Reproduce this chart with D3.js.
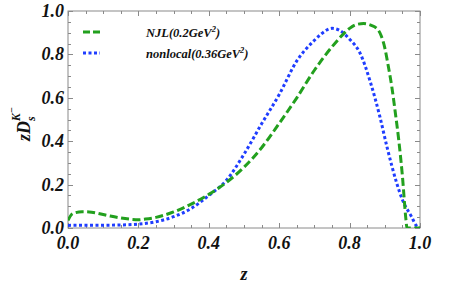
<!DOCTYPE html>
<html>
<head>
<meta charset="utf-8">
<style>
 body{ margin:0; background:#fff; }
 text{ font-family:"Liberation Serif", serif; font-weight:bold; font-style:italic; fill:#111; }
</style>
</head>
<body>
<svg width="463" height="288"></svg>
<script src="https://d3js.org/d3.v7.min.js"></script>
<script>

// NJL (0.2 GeV^2), green dashed
var njlZ = [0, 0.01, 0.02, 0.04, 0.06, 0.08, 0.1, 0.12, 0.15, 0.18, 0.2, 0.22, 0.25, 0.3, 0.35, 0.4, 0.45, 0.5, 0.55, 0.6, 0.65, 0.7, 0.75, 0.78, 0.8, 0.82, 0.84, 0.86, 0.88, 0.89, 0.9, 0.91, 0.92, 0.93, 0.94, 0.95, 0.96, 0.963, 0.98, 1.0];
var njlV = [0.035, 0.062, 0.07, 0.075, 0.074, 0.069, 0.062, 0.055, 0.046, 0.04, 0.038, 0.041, 0.049, 0.074, 0.11, 0.155, 0.21, 0.28, 0.37, 0.482, 0.6, 0.727, 0.835, 0.89, 0.92, 0.938, 0.942, 0.935, 0.915, 0.885, 0.83, 0.745, 0.65, 0.53, 0.4, 0.24, 0.04, 0, 0, 0];

// nonlocal (0.36 GeV^2), blue dotted
var nlZ = [0, 0.05, 0.1, 0.15, 0.2, 0.25, 0.3, 0.35, 0.4, 0.45, 0.5, 0.55, 0.6, 0.65, 0.7, 0.72, 0.75, 0.77, 0.8, 0.83, 0.86, 0.886, 0.906, 0.934, 0.95, 0.976, 0.99, 1.0];
var nlV = [0.012, 0.013, 0.013, 0.014, 0.018, 0.029, 0.052, 0.09, 0.15, 0.22, 0.34, 0.48, 0.615, 0.77, 0.865, 0.895, 0.92, 0.912, 0.87, 0.805, 0.667, 0.513, 0.375, 0.206, 0.13, 0.052, 0.01, 0];

var xTicks = [0, 0.2, 0.4, 0.6, 0.8, 1.0];
var yTicks = [0, 0.2, 0.4, 0.6, 0.8, 1.0];
var legendNames = ["NJL(0.2GeV", "nonlocal(0.36GeV"];

var svg = d3.select("svg");
var x = d3.scaleLinear().domain([0, 1]).range([68, 420]);
var y = d3.scaleLinear().domain([0, 1]).range([228, 11]);
var axisColor = "#8a8a8a";

// frame
svg.append("rect")
    .attr("x", x(0)).attr("y", y(1))
    .attr("width", x(1) - x(0)).attr("height", y(0) - y(1))
    .attr("fill", "none").attr("stroke", axisColor).attr("stroke-width", 1);

// ticks (inside, on all four sides)
var minor = d3.range(0, 1.0001, 0.05);
var g = svg.append("g").attr("stroke", axisColor).attr("stroke-width", 1);
minor.forEach(function(t){
    var isMajor = Math.abs(t * 5 - Math.round(t * 5)) < 1e-6;
    var len = isMajor ? 5 : 3;
    var px = Math.round(x(t)) + 0.5, py = Math.round(y(t)) + 0.5;
    g.append("line").attr("x1", px).attr("x2", px).attr("y1", y(0)).attr("y2", y(0) - len);
    g.append("line").attr("x1", px).attr("x2", px).attr("y1", y(1)).attr("y2", y(1) + len);
    g.append("line").attr("y1", py).attr("y2", py).attr("x1", x(0)).attr("x2", x(0) + len);
    g.append("line").attr("y1", py).attr("y2", py).attr("x1", x(1)).attr("x2", x(1) - len);
});

// tick labels
svg.selectAll(".xl").data(xTicks).enter().append("text")
    .attr("x", function(d){ return x(d); })
    .attr("y", 249)
    .attr("text-anchor", "middle")
    .style("font-size", "18px")
    .text(function(d){ return d.toFixed(1); });

svg.selectAll(".yl").data(yTicks).enter().append("text")
    .attr("x", 64)
    .attr("y", function(d){ return y(d) + 6; })
    .attr("text-anchor", "end")
    .style("font-size", "18px")
    .text(function(d){ return d.toFixed(1); });

// axis labels
svg.append("text").attr("x", 244).attr("y", 280)
    .attr("text-anchor", "middle").style("font-size", "18px").text("z");

var yl = svg.append("text")
    .attr("transform", "translate(30,141) rotate(-90)")
    .style("font-size", "18px");
yl.append("tspan").text("zD");
yl.append("tspan").attr("dy", 5).style("font-size", "12px").text("s");
yl.append("tspan").attr("dx", -5).attr("dy", -15).style("font-size", "12px").text("K");
yl.append("tspan").attr("dy", -5).style("font-size", "10px").text("\u2212");

// curves
svg.append("clipPath").attr("id", "clip").append("rect")
    .attr("x", x(0)).attr("y", y(1) - 2)
    .attr("width", x(1) - x(0)).attr("height", y(0) - y(1) + 2);

var line = d3.line()
    .x(function(d){ return x(d[0]); })
    .y(function(d){ return y(d[1]); })
    .curve(d3.curveMonotoneX);

var green = "#22a01e", blue = "#1f3dff";

svg.append("path")
    .datum(nlZ.map(function(z, i){ return [z, nlV[i]]; }))
    .attr("clip-path", "url(#clip)")
    .attr("d", line)
    .attr("fill", "none").attr("stroke", blue)
    .attr("stroke-width", 3).attr("stroke-dasharray", "3,2.5");

svg.append("path")
    .datum(njlZ.map(function(z, i){ return [z, njlV[i]]; }))
    .attr("clip-path", "url(#clip)")
    .attr("d", line)
    .attr("fill", "none").attr("stroke", green)
    .attr("stroke-width", 3).attr("stroke-dasharray", "8,3.5");

// legend
var legColors = [green, blue];
var legDash = ["7,3", "3,2.5"];
legendNames.forEach(function(name, i){
    var ly = 32 + i * 21;
    svg.append("line")
        .attr("x1", 83).attr("x2", 100).attr("y1", ly).attr("y2", ly)
        .attr("stroke", legColors[i]).attr("stroke-width", 3)
        .attr("stroke-dasharray", legDash[i]);
    var t = svg.append("text").attr("x", 146).attr("y", ly + 5)
        .style("font-size", "12.5px");
    t.append("tspan").text(name);
    t.append("tspan").attr("dy", -5).style("font-size", "8.5px").text("2");
    t.append("tspan").attr("dy", 5).text(")");
});

</script>
</body>
</html>
